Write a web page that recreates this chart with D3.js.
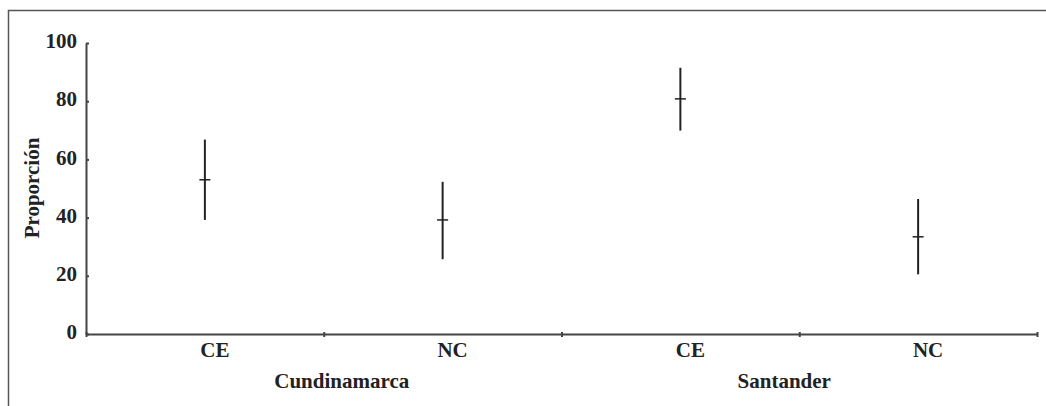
<!DOCTYPE html>
<html>
<head>
<meta charset="utf-8">
<script src="https://cdn.jsdelivr.net/npm/d3@7"></script>
<style>
  body { margin: 0; background: #fff; }
  svg { display: block; }
  text { font-family: 'Liberation Serif', 'Times New Roman', serif; font-weight: bold; fill: #222; }
  .axis path, .axis line { stroke: #444; stroke-width: 2; }
</style>
</head>
<body>
<svg id="chart" width="1046" height="406"></svg>
<script>
// Data
const groups = ['Cundinamarca', 'Santander'];
const categories = ['CE', 'NC', 'CE', 'NC'];
const means = [53.0, 39.2, 80.8, 33.4];
const lower = [39.2, 25.7, 69.9, 20.5];
const upper = [66.8, 52.3, 91.5, 46.4];
const yTicks = [0, 20, 40, 60, 80, 100];

const svg = d3.select('#chart');

// Frame around the chart (runs off right and bottom edges)
svg.append('rect')
  .attr('x', 8.5)
  .attr('y', 10.5)
  .attr('width', 1100)
  .attr('height', 500)
  .attr('fill', 'none')
  .attr('stroke', '#555')
  .attr('stroke-width', 1.5);

const margin = { left: 86, right: 1037, top: 43, bottom: 334 };

// Set the ranges
const x = d3.scaleLinear().domain([0, categories.length]).range([margin.left, margin.right]);
const y = d3.scaleLinear().domain([0, 100]).range([margin.bottom, margin.top]);

// Add the Y Axis
const yAxis = svg.append('g')
  .attr('class', 'axis')
  .attr('transform', `translate(${margin.left}, 0)`)
  .call(d3.axisLeft(y).tickValues(yTicks).tickSize(-3).tickSizeOuter(0).tickPadding(9));

yAxis.selectAll('text')
  .style('font-size', '21px')
  .attr('dy', '0.22em')
  .attr('x', -9);

// Add the X Axis (ticks at category boundaries)
const xAxis = svg.append('g')
  .attr('class', 'axis')
  .attr('transform', `translate(0, ${margin.bottom})`)
  .call(d3.axisBottom(x).tickValues(d3.range(categories.length + 1)).tickSize(3)
    .tickSizeOuter(0).tickFormat(''));

xAxis.selectAll('.tick line').attr('y1', -2).attr('y2', 3);

// Category labels
svg.selectAll('text.cat')
  .data(categories)
  .enter().append('text')
  .attr('class', 'cat')
  .attr('x', (d, i) => x(i + 0.5) + 10)
  .attr('y', 357)
  .style('font-size', '21px')
  .style('text-anchor', 'middle')
  .text(d => d);

// Group labels
const groupOffsets = [18, -15];
svg.selectAll('text.group')
  .data(groups)
  .enter().append('text')
  .attr('class', 'group')
  .attr('x', (d, i) => x(i * 2 + 1) + groupOffsets[i])
  .attr('y', 388)
  .style('font-size', '21px')
  .style('text-anchor', 'middle')
  .text(d => d);

// Y axis title
svg.append('text')
  .attr('transform', 'rotate(-90)')
  .attr('x', -188)
  .attr('y', 39)
  .style('font-size', '21px')
  .style('text-anchor', 'middle')
  .text('Proporción');

// Error bars
const bars = svg.selectAll('g.bar')
  .data(means)
  .enter().append('g')
  .attr('class', 'bar');

bars.append('line')
  .attr('x1', (d, i) => x(i + 0.5))
  .attr('x2', (d, i) => x(i + 0.5))
  .attr('y1', (d, i) => y(upper[i]))
  .attr('y2', (d, i) => y(lower[i]))
  .attr('stroke', '#222')
  .attr('stroke-width', 2);

bars.append('line')
  .attr('x1', (d, i) => x(i + 0.5) - 5.5)
  .attr('x2', (d, i) => x(i + 0.5) + 5.5)
  .attr('y1', d => y(d))
  .attr('y2', d => y(d))
  .attr('stroke', '#222')
  .attr('stroke-width', 1.5);
</script>
</body>
</html>
